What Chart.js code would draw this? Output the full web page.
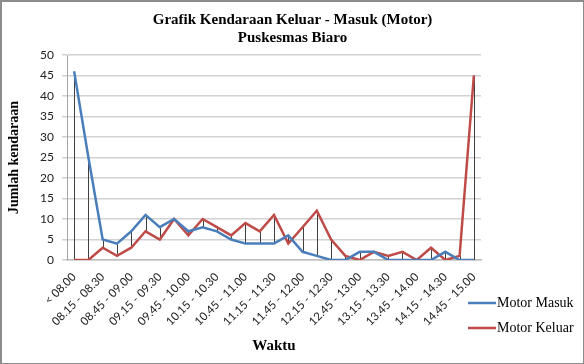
<!DOCTYPE html>
<html>
<head>
<meta charset="utf-8">
<script src="https://cdn.jsdelivr.net/npm/chart.js@4/dist/chart.umd.min.js"></script>
<style>
  html, body { margin: 0; padding: 0; background: #fff; }
  #wrap {
    position: absolute; left: 0; top: 0;
    width: 584px; height: 364px; box-sizing: border-box;
    border-top: 2px solid #8c8c8c; border-left: 2px solid #8c8c8c;
    border-right: 1px solid #8c8c8c; border-bottom: 1px solid #8c8c8c;
    background: #fff;
  }
  #chart { display: block; }
</style>
</head>
<body>
<div id="wrap"><canvas id="chart"></canvas></div>
<script>
const waktu = [
  '< 08.00', '08.00 - 08.15', '08.15 - 08.30', '08.30 - 08.45', '08.45 - 09.00',
  '09.00 - 09.15', '09.15 - 09.30', '09.30 - 09.45', '09.45 - 10.00', '10.00 - 10.15',
  '10.15 - 10.30', '10.30 - 10.45', '10.45 - 11.00', '11.00 - 11.15', '11.15 - 11.30',
  '11.30 - 11.45', '11.45 - 12.00', '12.00 - 12.15', '12.15 - 12.30', '12.30 - 12.45',
  '12.45 - 13.00', '13.00 - 13.15', '13.15 - 13.30', '13.30 - 13.45', '13.45 - 14.00',
  '14.00 - 14.15', '14.15 - 14.30', '14.30 - 14.45', '14.45 - 15.00'
];
const motorMasuk = [46, 25, 5, 4, 7, 11, 8, 10, 7, 8, 7, 5, 4, 4, 4, 6, 2, 1, 0, 0, 2, 2, 0, 0, 0, 0, 2, 0, 0];
const motorKeluar = [0, 0, 3, 1, 3, 7, 5, 10, 6, 10, 8, 6, 9, 7, 11, 4, 8, 12, 5, 1, 0, 2, 1, 2, 0, 3, 0, 1, 45];
const yTicks = [0, 5, 10, 15, 20, 25, 30, 35, 40, 45, 50];

const serif = '"Liberation Serif", "Times New Roman", serif';
const sans = 'Lato, "Liberation Sans", sans-serif';

// vertical high-low lines between the two series
const highLow = {
  id: 'highLow',
  beforeDatasetsDraw(chart) {
    const { ctx, scales: { x, y } } = chart;
    ctx.save();
    ctx.strokeStyle = '#404040';
    ctx.lineWidth = 1;
    motorMasuk.forEach((v, i) => {
      const px = Math.round(x.getPixelForValue(i)) + 0.5;
      ctx.beginPath();
      ctx.moveTo(px, y.getPixelForValue(v));
      ctx.lineTo(px, y.getPixelForValue(motorKeluar[i]));
      ctx.stroke();
    });
    ctx.restore();
  }
};

// legend drawn in the lower right corner
const cornerLegend = {
  id: 'cornerLegend',
  afterDraw(chart) {
    const { ctx } = chart;
    ctx.save();
    ctx.font = '14px ' + serif;
    ctx.textBaseline = 'middle';
    chart.data.datasets.forEach((ds, i) => {
      const yy = 301 + i * 25;
      ctx.strokeStyle = ds.borderColor;
      ctx.lineWidth = 2.5;
      ctx.beginPath();
      ctx.moveTo(466, yy);
      ctx.lineTo(494, yy);
      ctx.stroke();
      ctx.fillStyle = '#000';
      ctx.fillText(ds.label, 495, yy);
    });
    ctx.restore();
  }
};

new Chart(document.getElementById('chart'), {
  type: 'line',
  data: {
    labels: waktu,
    datasets: [
      { label: 'Motor Masuk', data: motorMasuk, borderColor: '#4a7ebb', borderWidth: 2.5, pointRadius: 0, tension: 0 },
      { label: 'Motor Keluar', data: motorKeluar, borderColor: '#be4b48', borderWidth: 2.5, pointRadius: 0, tension: 0 }
    ]
  },
  options: {
    responsive: true,
    maintainAspectRatio: false,
    animation: false,
    layout: { padding: 0 },
    plugins: {
      legend: { display: false },
      tooltip: { enabled: false },
      title: {
        display: true,
        text: ['Grafik Kendaraan Keluar - Masuk (Motor)', 'Puskesmas Biaro'],
        color: '#000',
        font: { family: serif, size: 15, weight: 'bold', lineHeight: 1.2 },
        padding: { top: 9, bottom: 8 }
      }
    },
    scales: {
      x: {
        offset: true,
        grid: { display: false },
        border: { display: true, color: '#bdbdbd', width: 1.5 },
        ticks: {
          autoSkip: false,
          minRotation: 45,
          maxRotation: 45,
          color: '#222',
          font: { family: sans, size: 11.5 },
          padding: 2,
          callback: (v, i) => (i % 2 === 0 ? waktu[i] : '')
        },
        title: {
          display: true,
          text: 'Waktu',
          color: '#000',
          font: { family: serif, size: 15, weight: 'bold', lineHeight: 1.2 },
          padding: { top: 0, bottom: 8 }
        },
        afterFit: (s) => { s.height = 103; }
      },
      y: {
        min: 0,
        max: 50,
        afterBuildTicks: (s) => { s.ticks = yTicks.map(v => ({ value: v })); },
        grid: { color: '#d2d2d2', lineWidth: 1.5, tickLength: 5 },
        border: { display: true, color: '#a6a6a6', width: 1 },
        ticks: {
          color: '#222',
          font: { family: sans, size: 12 },
          padding: 8
        },
        title: {
          display: true,
          text: 'Jumlah kendaraan',
          color: '#000',
          font: { family: serif, size: 14, weight: 'bold', lineHeight: 1.2 },
          padding: { top: 4, bottom: 0 }
        },
        afterFit: (s) => { s.width = 65; }
      },
      // empty right-hand axis that reserves room for the legend
      side: {
        position: 'right',
        min: 0,
        max: 50,
        grid: { display: false },
        border: { display: false },
        ticks: { display: false },
        afterFit: (s) => { s.width = 102; }
      }
    }
  },
  plugins: [highLow, cornerLegend]
});
</script>
</body>
</html>
